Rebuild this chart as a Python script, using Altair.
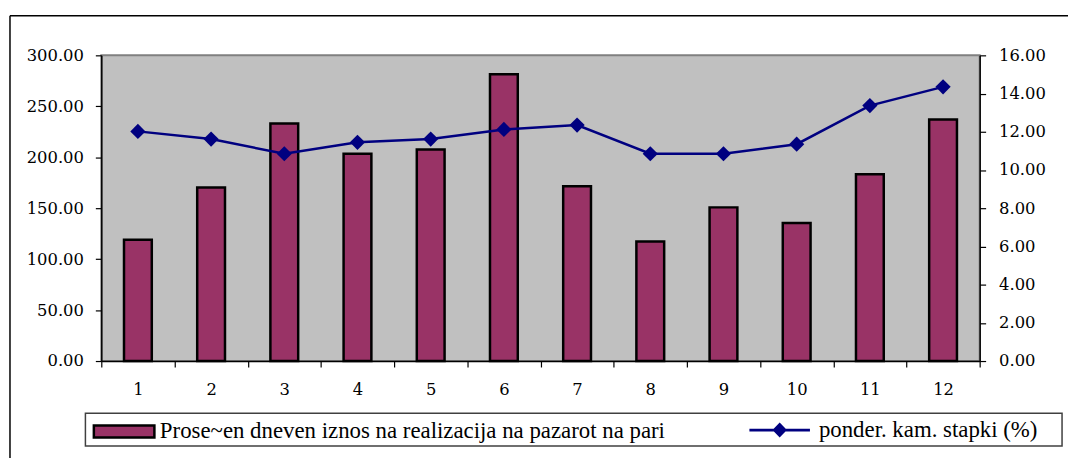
import altair as alt
import pandas as pd

# ---- data ----
months = [1, 2, 3, 4, 5, 6, 7, 8, 9, 10, 11, 12]
amounts = [119.0, 170.3, 233.1, 203.4, 207.5, 281.5, 171.5, 117.4, 150.8, 135.5, 183.2, 237.0]
rates = [12.02, 11.62, 10.85, 11.45, 11.62, 12.12, 12.35, 10.85, 10.85, 11.35, 13.37, 14.35]
left_ticks = [0, 50, 100, 150, 200, 250, 300]
right_ticks = [0, 2, 4, 6, 8, 10, 12, 14, 16]
bar_name = "Prose~en dneven iznos na realizacija na pazarot na pari"
line_name = "ponder. kam. stapki (%)"

df = pd.DataFrame({
    "month": months,
    "amount": amounts,
    "rate": rates,
    "s1": [bar_name] * len(months),
    "s2": [line_name] * len(months),
})

MAROON = "#993366"
NAVY = "#000080"
AXIS_FONT = "DejaVu Serif, serif"
LEG_FONT = "Liberation Serif, Times New Roman, serif"

x_enc = alt.X(
    "month:O",
    scale=alt.Scale(paddingInner=0, paddingOuter=0),
    axis=alt.Axis(
        title=None, labelAngle=0, tickBand="extent", tickSize=6, labelPadding=15,
        domainColor="black", tickColor="black", domainWidth=1.5, tickWidth=1.2,
        labelFont=AXIS_FONT, labelFontSize=16.5, labelColor="black",
    ),
)

y_right = alt.Y(
    "rate:Q",
    scale=alt.Scale(domain=[0, 16], nice=False),
    axis=alt.Axis(
        title=None, orient="right", values=right_ticks,
        format=".2f", tickSize=6, labelPadding=13, grid=False, labelOverlap=False,
        domainColor="black", tickColor="black", domainWidth=1.5, tickWidth=1.2,
        labelFont=AXIS_FONT, labelFontSize=16.5, labelColor="black",
    ),
)

one = pd.DataFrame({"k": [0]})

# decoration: outer chart frame (top and left edges, the rest is off-page)
frame_top = alt.Chart(one).mark_rule(color="black", strokeWidth=1.5).encode(
    x=alt.value(-92), x2=alt.value(1100), y=alt.value(-40)
)
frame_left = alt.Chart(one).mark_rule(color="black", strokeWidth=1.5).encode(
    x=alt.value(-92), y=alt.value(-40), y2=alt.value(500)
)

# decoration: legend box
legbox = alt.Chart(one).mark_rect(
    filled=False, stroke="#404040", strokeWidth=1.5
).encode(
    x=alt.value(-16), x2=alt.value(968), y=alt.value(360.5), y2=alt.value(393.5)
)

bars = alt.Chart(df).mark_bar(
    size=28, stroke="black", strokeWidth=2.5
).encode(
    x=x_enc,
    y=alt.Y(
        "amount:Q",
        scale=alt.Scale(domain=[0, 300], nice=False),
        axis=alt.Axis(
            title=None, orient="left", values=left_ticks,
            format=".2f", tickSize=6, labelPadding=12, grid=False, labelOverlap=False,
            domainColor="black", tickColor="black", domainWidth=1.5, tickWidth=1.2,
            labelFont=AXIS_FONT, labelFontSize=16.5, labelColor="black",
        ),
    ),
    fill=alt.Fill(
        "s1:N",
        scale=alt.Scale(domain=[bar_name], range=[MAROON]),
        legend=alt.Legend(
            title=None, orient="none", legendX=-9, legendY=347, padding=0,
            symbolType="M-1,-0.2H1V0.2H-1Z", symbolSize=3721,
            symbolStrokeColor="black", symbolStrokeWidth=2.5,
            labelFont=LEG_FONT, labelFontSize=23, labelColor="black", labelOffset=4,
            labelLimit=800,
        ),
    ),
)

line = alt.Chart(df).mark_line(color=NAVY, strokeWidth=2.5).encode(
    x=x_enc,
    y=y_right,
)

points = alt.Chart(df).mark_point(
    shape="diamond", size=235, filled=True, opacity=1
).encode(
    x=x_enc,
    y=y_right,
    fill=alt.Fill(
        "s2:N",
        scale=alt.Scale(domain=[line_name], range=[NAVY]),
        legend=alt.Legend(
            title=None, orient="none", legendX=653, legendY=347, padding=0,
            symbolType="M-1,-0.045H1V0.045H-1Z M0,-0.245L0.24,0L0,0.245L-0.24,0Z",
            symbolSize=3721, symbolStrokeWidth=0,
            labelFont=LEG_FONT, labelFontSize=23, labelColor="black", labelOffset=9,
            labelLimit=400,
        ),
    ),
)

series2 = alt.layer(line, points)

chart = alt.layer(frame_top, frame_left, legbox, bars, series2).resolve_scale(
    y="independent", fill="independent"
).properties(
    width=885,
    height=308,
    padding={"left": 94, "top": 46, "right": 89, "bottom": 96},
    autosize=alt.AutoSizeParams(type="none"),
    background="white",
).configure_view(
    fill="#C0C0C0", stroke="#808080", strokeWidth=2
)

chart.save("out.html", embed_options={"renderer": "svg", "actions": False})
